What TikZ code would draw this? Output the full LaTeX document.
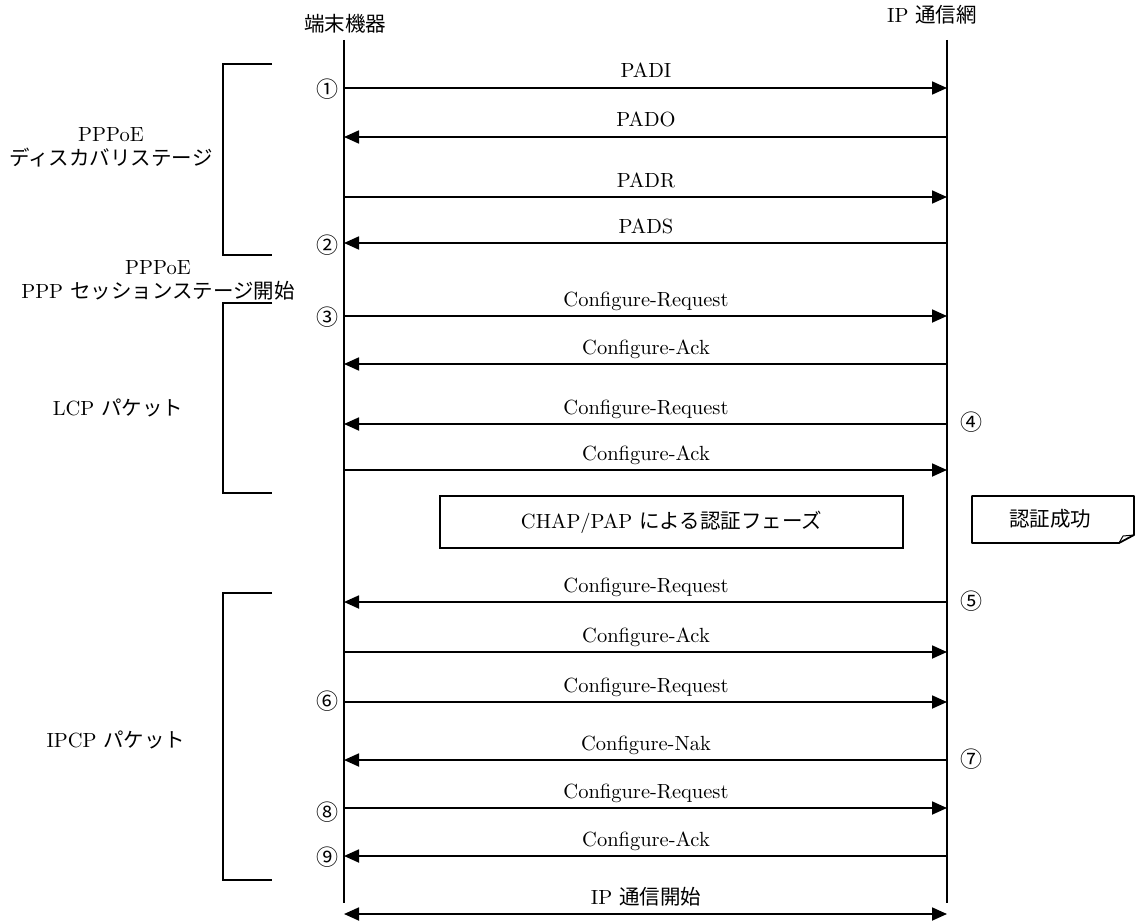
\documentclass[tikz,border=0pt]{standalone}
\usepackage{fontspec}
\setmainfont{lmroman10-regular.otf}
\newfontfamily\jp{Noto Sans CJK JP}
\usetikzlibrary{arrows.meta}
\begin{document}
\begin{tikzpicture}[x=1pt,y=-1pt,
  every node/.style={inner sep=0pt, font=\fontsize{20.5}{25}\selectfont},
  life/.style={line width=1.8pt},
  msg/.style={line width=1.8pt, -{Triangle[length=15pt,width=13pt]}},
  dmsg/.style={line width=1.8pt, {Triangle[length=15pt,width=13pt]}-{Triangle[length=15pt,width=13pt]}},
  lbl/.style={anchor=base},
  num/.style={font=\jp\fontsize{22}{24}\selectfont},
  brk/.style={line width=1.8pt},
  side/.style={align=center, font=\fontsize{20.5}{24}\selectfont},
  boxed/.style={draw, line width=1.8pt}]
\useasboundingbox (0,0) rectangle (1143,923);
% lifelines
\node (ta) at (345,24) {\jp 端末機器};
\node (ip) at (932,15) {IP {\jp 通信網}};
\coordinate (Ltop) at (344,40); \coordinate (Lbot) at (344,903);
\coordinate (Rtop) at (947,40); \coordinate (Rbot) at (947,903);
\draw[life] (Ltop) -- (Lbot);
\draw[life] (Rtop) -- (Rbot);
% messages left to right
\foreach \i/\y/\t in {1/88/PADI, 2/197/PADR, 3/316/Configure-Request, 4/470/Configure-Ack, 5/652/Configure-Ack, 6/702/Configure-Request, 7/808/Configure-Request}{
  \coordinate (a\i) at (344,\y); \coordinate (b\i) at (947,\y);
  \draw[msg] (a\i) -- (b\i);
  \node[lbl] (ml\i) at (646,\y-10) {\t};
}
% messages right to left
\foreach \i/\y/\t in {1/137/PADO, 2/243/PADS, 3/364/Configure-Ack, 4/424/Configure-Request, 5/602/Configure-Request, 6/760/Configure-Nak, 7/856/Configure-Ack}{
  \coordinate (c\i) at (947,\y); \coordinate (d\i) at (344,\y);
  \draw[msg] (c\i) -- (d\i);
  \node[lbl] (mr\i) at (646,\y-10) {\t};
}
% final double arrow
\coordinate (e1) at (344,914); \coordinate (e2) at (947,914);
\draw[dmsg] (e1) -- (e2);
\node[lbl] (ipstart) at (646,904) {IP {\jp 通信開始}};
% circled numbers
\node[num] (n1) at (327,89) {①};
\node[num] (n2) at (327,245) {②};
\node[num] (n3) at (327,317) {③};
\node[num] (n4) at (971,422) {④};
\node[num] (n5) at (971,601) {⑤};
\node[num] (n6) at (327,701) {⑥};
\node[num] (n7) at (971,759) {⑦};
\node[num] (n8) at (327,812) {⑧};
\node[num] (n9) at (327,857) {⑨};
% brackets
\coordinate (k1a) at (272,64); \coordinate (k1b) at (223,64); \coordinate (k1c) at (223,255); \coordinate (k1d) at (272,255);
\draw[brk] (k1a) -- (k1b) -- (k1c) -- (k1d);
\coordinate (k2a) at (272,303); \coordinate (k2b) at (223,303); \coordinate (k2c) at (223,493); \coordinate (k2d) at (272,493);
\draw[brk] (k2a) -- (k2b) -- (k2c) -- (k2d);
\coordinate (k3a) at (272,593); \coordinate (k3b) at (223,593); \coordinate (k3c) at (223,880); \coordinate (k3d) at (272,880);
\draw[brk] (k3a) -- (k3b) -- (k3c) -- (k3d);
\node[side] (s1) at (111,147) {PPPoE\\{\jp ディスカバリステージ}};
\node[side] (s2) at (158,280) {PPPoE\\PPP {\jp セッションステージ開始}};
\node (s3) at (118,408) {LCP {\jp パケット}};
\node (s4) at (116,740) {IPCP {\jp パケット}};
% authentication box
\node[boxed, minimum width=463pt, minimum height=52pt] (auth) at (671.5,522) {CHAP/PAP {\jp による認証フェーズ}};
% note
\coordinate (p1) at (972,496); \coordinate (p2) at (1134,496); \coordinate (p3) at (1134,535);
\coordinate (p4) at (1119,543); \coordinate (p5) at (972,543); \coordinate (p6) at (1123,536);
\draw[line width=1.8pt, line join=round] (p1) -- (p2) -- (p3) -- (p4) -- (p5) -- cycle;
\draw[line width=1pt] (p4) .. controls (1121,539) .. (p6) -- (p3);
\node (note) at (1050,519) {\jp 認証成功};
\end{tikzpicture}
\end{document}
